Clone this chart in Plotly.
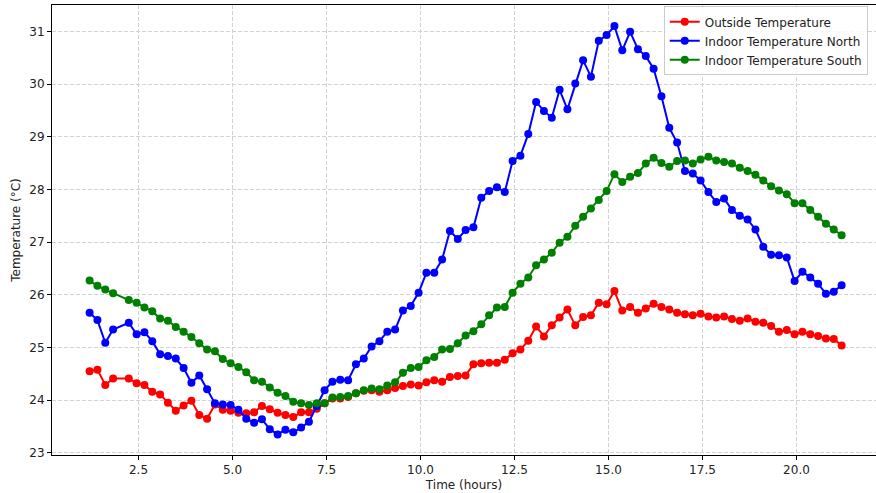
import plotly.graph_objects as go

time_hours = [1.2, 1.408, 1.617, 1.825, 2.242, 2.45, 2.658, 2.867, 3.075, 3.283,
              3.492, 3.7, 3.908, 4.117, 4.325, 4.533, 4.742, 4.95, 5.158, 5.367,
              5.575, 5.783, 5.992, 6.2, 6.408, 6.617, 6.825, 7.033, 7.242, 7.45,
              7.658, 7.867, 8.075, 8.283, 8.492, 8.7, 8.908, 9.117, 9.325, 9.533,
              9.742, 9.95, 10.158, 10.367, 10.575, 10.783, 10.992, 11.2, 11.408, 11.617,
              11.825, 12.033, 12.242, 12.45, 12.658, 12.867, 13.075, 13.283, 13.492, 13.7,
              13.908, 14.117, 14.325, 14.533, 14.742, 14.95, 15.158, 15.367, 15.575, 15.783,
              15.992, 16.2, 16.408, 16.617, 16.825, 17.033, 17.242, 17.45, 17.658, 17.867,
              18.075, 18.283, 18.492, 18.7, 18.908, 19.117, 19.325, 19.533, 19.742, 19.95,
              20.158, 20.367, 20.575, 20.783, 20.992, 21.2]

outside_temp = [24.55, 24.58, 24.29, 24.41, 24.41, 24.32, 24.29, 24.16, 24.11, 23.95,
                23.80, 23.90, 23.99, 23.72, 23.65, 23.92, 23.82, 23.80, 23.76, 23.75,
                23.77, 23.89, 23.83, 23.76, 23.72, 23.68, 23.77, 23.77, 23.84, 23.94,
                24.03, 24.03, 24.06, 24.13, 24.18, 24.19, 24.16, 24.19, 24.23, 24.27,
                24.30, 24.28, 24.34, 24.38, 24.35, 24.44, 24.46, 24.47, 24.68, 24.70,
                24.71, 24.71, 24.77, 24.89, 24.96, 25.13, 25.40, 25.21, 25.42, 25.57,
                25.72, 25.42, 25.58, 25.61, 25.85, 25.82, 26.07, 25.70, 25.77, 25.66,
                25.74, 25.83, 25.77, 25.72, 25.66, 25.63, 25.61, 25.64, 25.59, 25.57,
                25.59, 25.54, 25.51, 25.55, 25.49, 25.47, 25.41, 25.30, 25.33, 25.25,
                25.30, 25.25, 25.22, 25.17, 25.16, 25.04]

indoor_north = [25.66, 25.52, 25.09, 25.34, 25.47, 25.25, 25.29, 25.12, 24.87, 24.84,
                24.79, 24.61, 24.33, 24.47, 24.21, 23.94, 23.92, 23.91, 23.82, 23.65,
                23.57, 23.64, 23.45, 23.35, 23.44, 23.39, 23.48, 23.59, 23.89, 24.19,
                24.35, 24.39, 24.38, 24.68, 24.79, 25.02, 25.12, 25.30, 25.34, 25.70,
                25.79, 26.04, 26.42, 26.42, 26.67, 27.21, 27.06, 27.23, 27.28, 27.84,
                27.97, 28.04, 27.95, 28.54, 28.64, 29.05, 29.66, 29.49, 29.36, 29.89,
                29.52, 30.01, 30.45, 30.14, 30.82, 30.93, 31.10, 30.64, 30.99, 30.66,
                30.53, 30.29, 29.77, 29.17, 28.89, 28.35, 28.30, 28.17, 27.95, 27.76,
                27.83, 27.61, 27.50, 27.43, 27.24, 26.91, 26.76, 26.75, 26.71, 26.26,
                26.44, 26.33, 26.21, 26.02, 26.06, 26.18]

indoor_south = [26.27, 26.17, 26.10, 26.03, 25.90, 25.85, 25.76, 25.69, 25.55, 25.51,
                25.39, 25.30, 25.20, 25.08, 24.96, 24.93, 24.78, 24.70, 24.63, 24.53,
                24.38, 24.35, 24.24, 24.14, 24.08, 23.97, 23.94, 23.91, 23.94, 23.94,
                24.05, 24.06, 24.08, 24.13, 24.19, 24.22, 24.21, 24.28, 24.34, 24.52,
                24.61, 24.63, 24.76, 24.82, 24.96, 24.97, 25.08, 25.23, 25.31, 25.44,
                25.61, 25.76, 25.77, 26.04, 26.21, 26.33, 26.56, 26.67, 26.80, 26.99,
                27.10, 27.31, 27.48, 27.64, 27.80, 27.97, 28.29, 28.14, 28.24, 28.31,
                28.49, 28.60, 28.50, 28.43, 28.54, 28.55, 28.49, 28.57, 28.62, 28.55,
                28.52, 28.49, 28.41, 28.35, 28.28, 28.17, 28.06, 27.98, 27.91, 27.74,
                27.74, 27.61, 27.48, 27.35, 27.24, 27.13]

series_names = ["Outside Temperature", "Indoor Temperature North", "Indoor Temperature South"]
series_colors = ["#ff0000", "#0000ff", "#008000"]
series_values = [outside_temp, indoor_north, indoor_south]

FONT = "DejaVu Sans"
W, H = 876, 493
ML, MT, MB, MR = 52, 5, 38, 0

fig = go.Figure()
for name, color, vals in zip(series_names, series_colors, series_values):
    fig.add_trace(go.Scatter(
        x=time_hours, y=vals, name=name, mode="lines+markers",
        line=dict(color=color, width=2),
        marker=dict(color=color, size=8, symbol="circle"),
    ))

axis_common = dict(
    showline=True, linecolor="#000000", linewidth=1,
    ticks="outside", ticklen=4, tickwidth=1, tickcolor="#000000",
    showgrid=True, gridcolor="#d2d2d2", griddash="4px,2px", gridwidth=1,
    zeroline=False, automargin=False,
    tickfont=dict(family=FONT, size=12, color="#222222"),
)

fig.update_layout(
    width=W, height=H,
    margin=dict(l=ML, r=MR, t=MT, b=MB, pad=0),
    paper_bgcolor="white", plot_bgcolor="white",
    font=dict(family=FONT, size=12, color="#222222"),
    xaxis=dict(
        range=[0.2, 22.115], tick0=0, dtick=2.5, tickformat=".1f",
        mirror=True,
        title=dict(text="Time (hours)", font=dict(family=FONT, size=12, color="#222222"), standoff=4),
        **axis_common,
    ),
    yaxis=dict(
        range=[22.96, 31.50], tick0=23, dtick=1,
        mirror=False,
        title=dict(text="Temperature (°C)", font=dict(family=FONT, size=12, color="#222222"), standoff=6),
        **axis_common,
    ),
    legend=dict(
        x=0.99, y=0.997, xanchor="right", yanchor="top",
        bgcolor="rgba(255,255,255,0.85)", bordercolor="#cccccc", borderwidth=1,
        font=dict(family=FONT, size=12, color="#222222"),
        itemwidth=30, tracegroupgap=0,
    ),
    showlegend=True,
)

fig.write_html(
    "out.html",
    config={"displayModeBar": False},
    post_script="document.body.style.margin='0px';document.body.style.padding='0px';",
)
